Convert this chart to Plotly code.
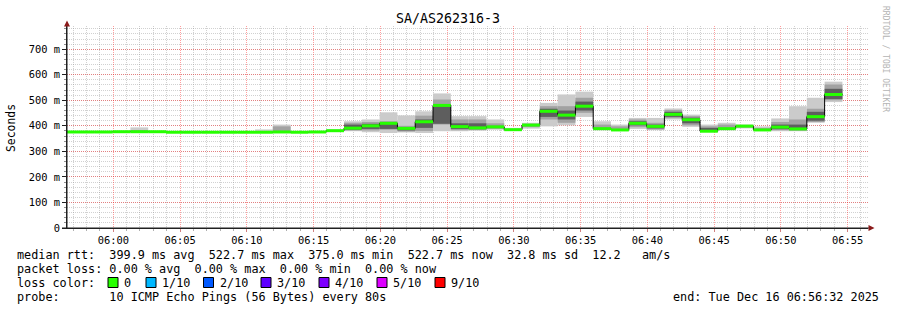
import pandas as pd
import plotly.graph_objects as go

# ---------------- data ----------------
TITLE = "SA/AS262316-3"
Y_LABEL = "Seconds"
WINDOW_START = "2025-12-16 05:56:32"
WINDOW_END = "2025-12-16 06:56:32"
FIRST_BIN_END = "2025-12-16 05:57:17"
STEP_SECONDS = 80

# median rtt per 80 s probe round (ms)
median = [376, 376, 376, 377, 377, 377, 375, 375, 375, 375, 375, 375, 376, 375, 376,
          381, 391, 400, 410, 390, 416, 480, 397, 392, 396, 385, 403, 457, 442, 477,
          389, 384, 410, 398, 445, 424, 379, 389, 399, 384, 395, 388, 436, 522.7]

# smoke: outer band (min..max ping)
outer_lo = [376, 376, 376, 377, 376, 377, 375, 375, 375, 375, 375, 375, 376, 375, 376,
            378, 379, 375, 372, 374, 372, 379, 379, 381, 385, 383, 389, 398, 402, 435,
            383, 383, 388, 383, 425, 396, 379, 383, 390, 383, 379, 379, 412, 493]
outer_hi = [376, 376, 376, 377, 394, 377, 375, 375, 375, 375, 375, 386, 405, 375, 376,
            386, 418, 425, 453, 441, 457, 527, 438, 438, 425, 392, 412, 490, 523, 534,
            418, 405, 431, 431, 468, 444, 405, 412, 405, 398, 429, 477, 510, 573]
# smoke: middle band
mid_lo = [376, 376, 376, 377, 377, 377, 375, 375, 375, 375, 375, 375, 378, 375, 376,
          381, 382, 382, 385, 378, 380, 405, 383, 384, 388, 385, 395, 425, 412, 451,
          386, 384, 395, 386, 430, 402, 382, 386, 393, 384, 383, 381, 415, 500]
mid_hi = [376, 376, 376, 377, 380, 377, 375, 375, 375, 375, 375, 375, 398, 375, 376,
          381, 412, 415, 418, 400, 440, 503, 425, 425, 410, 385, 408, 477, 477, 510,
          405, 398, 425, 412, 462, 438, 398, 405, 402, 392, 415, 425, 467, 562]
# smoke: inner band
inner_lo = [376, 376, 376, 377, 377, 377, 375, 375, 375, 375, 375, 375, 376, 375, 376,
            381, 385, 388, 388, 382, 392, 408, 388, 387, 392, 385, 403, 435, 425, 460,
            389, 384, 402, 390, 435, 410, 385, 389, 399, 384, 387, 384, 420, 505]
inner_hi = [376, 376, 376, 377, 377, 377, 375, 375, 375, 375, 375, 375, 376, 375, 376,
            381, 405, 408, 412, 392, 425, 485, 410, 410, 400, 385, 403, 467, 460, 495,
            389, 384, 418, 405, 455, 432, 392, 389, 399, 384, 405, 405, 455, 545]

y_tick_vals = [0, 100, 200, 300, 400, 500, 600, 700]
y_tick_text = ["0", "100 m", "200 m", "300 m", "400 m", "500 m", "600 m", "700 m"]

legend_rows = [
    "median rtt:  399.9 ms avg  522.7 ms max  375.0 ms min  522.7 ms now  32.8 ms sd  12.2   am/s",
    "packet loss: 0.00 % avg  0.00 % max  0.00 % min  0.00 % now",
    "loss color:",
    "probe:       10 ICMP Echo Pings (56 Bytes) every 80s",
]
loss_labels = ["0", "1/10", "2/10", "3/10", "4/10", "5/10", "9/10"]
loss_colors = ["#26ff00", "#00b8ff", "#0059ff", "#5e00ff", "#7e00ff", "#dd00ff", "#ff0000"]
END_TEXT = "end: Tue Dec 16 06:56:32 2025"
WATERMARK = "RRDTOOL / TOBI OETIKER"

# ---------------- layout constants ----------------
W, H = 897, 310
PL, PR, PT, PB = 67, 868, 26, 228
FONT = "DejaVu Sans Mono"
NB = "\u00a0"


def px(x):
    return (x - PL) / (PR - PL)


def py(y):
    return (PB - y) / (PB - PT)


n = len(median)
bin_end = pd.date_range(FIRST_BIN_END, periods=n, freq=f"{STEP_SECONDS}s")
bin_start = bin_end - pd.Timedelta(seconds=STEP_SECONDS)
bin_mid = bin_end - pd.Timedelta(seconds=STEP_SECONDS / 2)

fig = go.Figure()

bands = [(outer_lo, outer_hi, "#cbcbcb"), (mid_lo, mid_hi, "#a2a2a2"), (inner_lo, inner_hi, "#5e5e5e")]
for lo, hi, col in bands:
    fig.add_trace(go.Bar(
        x=bin_mid, base=lo, y=[h - l for l, h in zip(lo, hi)],
        width=STEP_SECONDS * 1000, marker=dict(color=col, line=dict(width=0)),
        hoverinfo="skip"))

# black step median
fig.add_trace(go.Scatter(
    x=list(bin_start) + [bin_end[-1]], y=median + [median[-1]],
    mode="lines", line=dict(color="#000000", width=1, shape="hv"), hoverinfo="skip"))

# green loss-coloured median segments
gx, gy = [], []
for s, e, m in zip(bin_start, bin_end, median):
    gx += [s, e, None]
    gy += [m, m, None]
fig.add_trace(go.Scatter(x=gx, y=gy, mode="lines",
                         line=dict(color=loss_colors[0], width=3), hoverinfo="skip"))

major_grid = "rgba(255,0,0,0.38)"
minor_grid = "rgba(140,140,140,0.4)"

fig.update_layout(
    width=W, height=H,
    margin=dict(l=PL, r=W - PR, t=PT, b=H - PB),
    paper_bgcolor="#ffffff", plot_bgcolor="#ffffff",
    showlegend=False, barmode="overlay",
    xaxis=dict(
        type="date", range=[WINDOW_START, WINDOW_END],
        dtick=300000, tickformat="%H:%M",
        tickfont=dict(family=FONT, size=10.4, color="#000000"),
        showgrid=True, gridcolor=major_grid, griddash="1px,1px", gridwidth=1,
        ticks="outside", ticklen=3, tickcolor="#d08080",
        minor=dict(dtick=60000, showgrid=True, gridcolor=minor_grid, griddash="1px,1px",
                   ticks="outside", ticklen=2, tickcolor="#b0b0b0"),
        showline=True, linecolor="#202020", linewidth=1, zeroline=False,
        layer="above traces", fixedrange=True,
    ),
    yaxis=dict(
        range=[0, 791], tickvals=y_tick_vals, ticktext=y_tick_text,
        tickfont=dict(family=FONT, size=10.4, color="#000000"),
        showgrid=True, gridcolor=major_grid, griddash="1px,1px", gridwidth=1,
        ticks="outside", ticklen=4, tickcolor="#202020",
        minor=dict(dtick=20, showgrid=True, gridcolor=minor_grid, griddash="1px,1px",
                   ticks="outside", ticklen=2, tickcolor="#909090"),
        showline=True, linecolor="#202020", linewidth=1, zeroline=False,
        layer="above traces", fixedrange=True,
    ),
)

shapes = []
# axis extensions and arrows
shapes.append(dict(type="line", xref="paper", yref="paper", x0=px(67), x1=px(67), y0=py(228), y1=py(24),
                   line=dict(color="#202020", width=1)))
shapes.append(dict(type="line", xref="paper", yref="paper", x0=px(62), x1=px(871), y0=py(228), y1=py(228),
                   line=dict(color="#202020", width=1)))
shapes.append(dict(type="path", xref="paper", yref="paper",
                   path=f"M {px(64)} {py(26.5)} L {px(70)} {py(26.5)} L {px(67)} {py(20.5)} Z",
                   fillcolor="#8b1a1a", line=dict(width=0)))
shapes.append(dict(type="path", xref="paper", yref="paper",
                   path=f"M {px(868.5)} {py(225)} L {px(868.5)} {py(231)} L {px(874.5)} {py(228)} Z",
                   fillcolor="#8b1a1a", line=dict(width=0)))

annotations = []
annotations.append(dict(text=TITLE, x=px(448), y=py(19), xref="paper", yref="paper",
                        showarrow=False, xanchor="center", yanchor="middle",
                        font=dict(family=FONT, size=13.3, color="#000000")))
annotations.append(dict(text=Y_LABEL, x=px(10.5), y=py(127.5), xref="paper", yref="paper",
                        showarrow=False, xanchor="center", yanchor="middle", textangle=-90,
                        font=dict(family=FONT, size=11.4, color="#000000")))
annotations.append(dict(text=WATERMARK, x=px(886), y=py(59), xref="paper", yref="paper",
                        showarrow=False, xanchor="center", yanchor="middle", textangle=90,
                        font=dict(family=FONT, size=8, color="#b4b4b4")))

row_y = [255, 268.5, 282.5, 296.5]
for txt, yy in zip(legend_rows, row_y):
    annotations.append(dict(text=txt.replace(" ", NB), x=px(15), y=py(yy), xref="paper", yref="paper",
                            showarrow=False, xanchor="left", yanchor="middle",
                            font=dict(family=FONT, size=11.8, color="#000000")))
annotations.append(dict(text=END_TEXT.replace(" ", NB), x=px(881), y=py(row_y[3]), xref="paper", yref="paper",
                        showarrow=False, xanchor="right", yanchor="middle",
                        font=dict(family=FONT, size=11.8, color="#000000")))

square_x = [108, 146, 203.5, 261, 319, 377, 435]
for sx, lab, col in zip(square_x, loss_labels, loss_colors):
    shapes.append(dict(type="rect", xref="paper", yref="paper",
                       x0=px(sx), x1=px(sx + 10), y0=py(287.5), y1=py(277.5),
                       fillcolor=col, line=dict(color="#000000", width=1)))
    annotations.append(dict(text=lab, x=px(sx + 14), y=py(row_y[2]), xref="paper", yref="paper",
                            showarrow=False, xanchor="left", yanchor="middle",
                            font=dict(family=FONT, size=11.8, color="#000000")))

fig.update_layout(shapes=shapes, annotations=annotations)
fig.write_html("out.html")
